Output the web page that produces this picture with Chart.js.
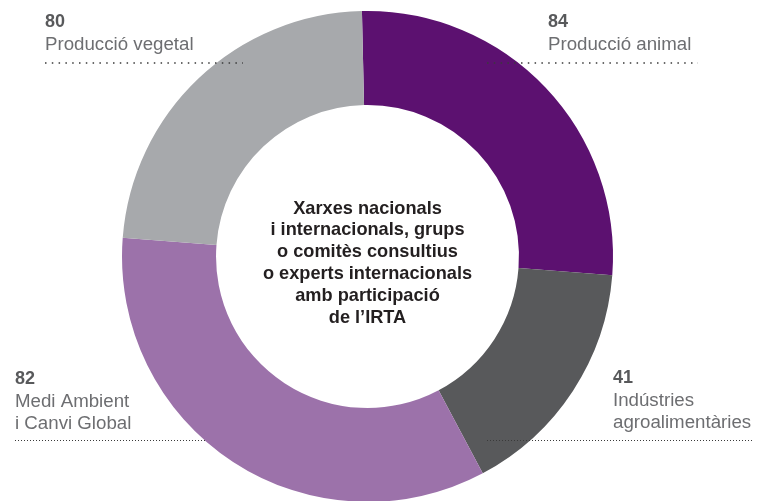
<!DOCTYPE html>
<html>
<head>
<meta charset="utf-8">
<script src="https://cdn.jsdelivr.net/npm/chart.js@4/dist/chart.umd.min.js"></script>
<style>
  html, body { margin: 0; padding: 0; background: #fff; overflow: hidden; }
  canvas { display: block; }
</style>
</head>
<body>
<canvas id="xarxes" width="759" height="520"></canvas>
<script>
// Xarxes i grups amb participació de l'IRTA, per àrea

const categories = ['Producció animal', 'Indústries agroalimentàries', 'Medi Ambient i Canvi Global', 'Producció vegetal'];
const counts = [84, 41, 82, 80];
// size of each arc as it is drawn in the picture (degrees)
const sliceShares = [95.7, 57.6, 122.4, 84.3];
const labelLines = [
  ['Producció animal'],
  ['Indústries', 'agroalimentàries'],
  ['Medi Ambient', 'i Canvi Global'],
  ['Producció vegetal']
];
const centerTitle = ['Xarxes nacionals', 'i internacionals, grups', 'o comitès consultius', 'o experts internacionals', 'amb participació', 'de l’IRTA'];
const colors = ['#5c1170', '#58595b', '#9c72aa', '#a7a9ac'];

const FONT = '"Liberation Sans", Arial, Helvetica, sans-serif';

// where each label block goes: x, baseline of number, dotted line
const labelPos = [
  { x: 548, y: 27, x1: 487, x2: 698, ly: 63, dash: [1.5, 5.3], lw: 1.5 },
  { x: 613, y: 383, x1: 487, x2: 752, ly: 440.5, dash: [1, 2], lw: 1 },
  { x: 15, y: 384, x1: 15, x2: 205, ly: 440.5, dash: [1, 2], lw: 1 },
  { x: 45, y: 27, x1: 45, x2: 243, ly: 63, dash: [1.5, 5.3], lw: 1.5 }
];

const labelsPlugin = {
  id: 'labels',
  afterDraw(chart) {
    const ctx = chart.ctx;
    ctx.save();
    ctx.textAlign = 'left';
    ctx.textBaseline = 'alphabetic';
    counts.forEach((n, i) => {
      const p = labelPos[i];
      ctx.fillStyle = '#58595b';
      ctx.font = 'bold 18px ' + FONT;
      ctx.fillText(String(n), p.x, p.y);
      ctx.fillStyle = '#6d6e71';
      ctx.font = '18.7px ' + FONT;
      labelLines[i].forEach((t, j) => ctx.fillText(t, p.x, p.y + 23 + j * 21.5));
      ctx.beginPath();
      ctx.setLineDash(p.dash);
      ctx.lineWidth = p.lw;
      ctx.strokeStyle = '#3a3a3a';
      ctx.moveTo(p.x1, p.ly);
      ctx.lineTo(p.x2, p.ly);
      ctx.stroke();
    });
    ctx.setLineDash([]);

    // text in the hole
    const arc = chart.getDatasetMeta(0).data[0];
    ctx.textAlign = 'center';
    ctx.fillStyle = '#231f20';
    ctx.font = 'bold 18.2px ' + FONT;
    centerTitle.forEach((t, j) => ctx.fillText(t, arc.x, 213.5 + j * 21.9));
    ctx.restore();
  }
};

new Chart(document.getElementById('xarxes'), {
  type: 'doughnut',
  data: {
    labels: categories,
    datasets: [{
      data: sliceShares,
      backgroundColor: colors,
      borderWidth: 0
    }]
  },
  options: {
    responsive: false,
    animation: false,
    rotation: -1.3,
    cutout: '61.7%',
    layout: {
      padding: { left: 122, right: 146, top: 11, bottom: 18 }
    },
    plugins: {
      legend: { display: false },
      tooltip: { enabled: false }
    }
  },
  plugins: [labelsPlugin]
});
</script>
</body>
</html>
